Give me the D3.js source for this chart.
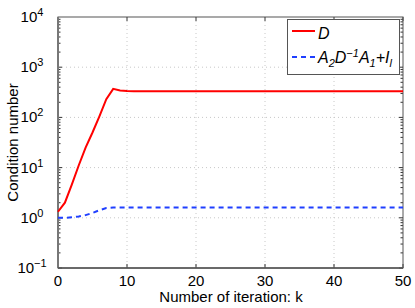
<!DOCTYPE html>
<html>
<head>
<meta charset="utf-8">
<script src="https://cdn.jsdelivr.net/npm/d3@7"></script>
<style>
body { margin: 0; background: #fff; }
text { font-family: "Liberation Sans", Arial, sans-serif; fill: #000; }
</style>
</head>
<body>
<svg width="415" height="308"></svg>
<script>
// data
var iterations = d3.range(0, 51);
var dValues = [1.32, 2.0, 4.6, 11, 25, 50, 105, 230, 370, 345, 335];
var schurValues = [1.0, 1.0, 1.02, 1.06, 1.13, 1.25, 1.42, 1.56, 1.6, 1.6, 1.6];
var dTail = 333, schurTail = 1.6;
var xTicks = [0, 10, 20, 30, 40, 50];
var yTicks = [-1, 0, 1, 2, 3, 4];

function valueAt(arr, tail, k) { return k < arr.length ? arr[k] : tail; }

var svg = d3.select("svg");
var pLeft = 58, pRight = 403, pTop = 17, pBottom = 268;

var x = d3.scaleLinear().domain([0, 50]).range([pLeft, pRight]);
var y = d3.scaleLog().domain([0.1, 10000]).range([pBottom, pTop]);

var g = svg.append("g");

// grid
xTicks.slice(1, -1).forEach(function(t) {
	g.append("line").attr("x1", x(t)).attr("x2", x(t)).attr("y1", pTop).attr("y2", pBottom)
		.attr("stroke", "#c8c8c8").attr("stroke-width", 1).attr("stroke-dasharray", "1,3");
});
yTicks.slice(1, -1).forEach(function(t) {
	g.append("line").attr("x1", pLeft).attr("x2", pRight).attr("y1", y(Math.pow(10, t))).attr("y2", y(Math.pow(10, t)))
		.attr("stroke", "#c8c8c8").attr("stroke-width", 1).attr("stroke-dasharray", "1,3");
});

// ticks inside the box
xTicks.forEach(function(t) {
	g.append("line").attr("x1", x(t)).attr("x2", x(t)).attr("y1", pBottom).attr("y2", pBottom - 4).attr("stroke", "#333");
	g.append("line").attr("x1", x(t)).attr("x2", x(t)).attr("y1", pTop).attr("y2", pTop + 4).attr("stroke", "#333");
});
for (var e = -1; e < 4; e++) {
	for (var m = 1; m < 10; m++) {
		var v = m * Math.pow(10, e);
		var len = m == 1 ? 4 : 2.5;
		g.append("line").attr("x1", pLeft).attr("x2", pLeft + len).attr("y1", y(v)).attr("y2", y(v)).attr("stroke", "#333");
		g.append("line").attr("x1", pRight).attr("x2", pRight - len).attr("y1", y(v)).attr("y2", y(v)).attr("stroke", "#333");
	}
}

// box
g.append("rect").attr("x", pLeft).attr("y", pTop).attr("width", pRight - pLeft).attr("height", pBottom - pTop)
	.attr("fill", "none").attr("stroke", "#555").attr("stroke-width", 1);
g.append("line").attr("x1", pLeft).attr("x2", pLeft).attr("y1", pTop).attr("y2", pBottom).attr("stroke", "#777").attr("stroke-width", 2);
g.append("line").attr("x1", pLeft).attr("x2", pRight).attr("y1", pBottom).attr("y2", pBottom).attr("stroke", "#555").attr("stroke-width", 1.5);

// tick labels
xTicks.forEach(function(t) {
	g.append("text").attr("x", x(t)).attr("y", pBottom + 18).attr("text-anchor", "middle")
		.attr("font-size", 15).text(t);
});
yTicks.forEach(function(t) {
	var lab = g.append("text").attr("x", pLeft - 26).attr("y", y(Math.pow(10, t)) + 5).attr("text-anchor", "middle").attr("font-size", 15);
	lab.append("tspan").text("10");
	lab.append("tspan").attr("dy", -6).attr("font-size", 11).text(t < 0 ? "\u2212" + (-t) : t);
});

// axis titles
g.append("text").attr("x", 231).attr("y", 302).attr("text-anchor", "middle").attr("font-size", 15).text("Number of iteration: k");
g.append("text").attr("transform", "translate(18," + ((pTop + pBottom) / 2) + ") rotate(-90)")
	.attr("text-anchor", "middle").attr("font-size", 15).text("Condition number");

// lines
var line = d3.line().x(function(d) { return x(d[0]); }).y(function(d) { return y(d[1]); });
var dData = iterations.map(function(k) { return [k, valueAt(dValues, dTail, k)]; });
var sData = iterations.map(function(k) { return [k, valueAt(schurValues, schurTail, k)]; });

g.append("path").datum(dData).attr("d", line).attr("fill", "none").attr("stroke", "#ff0000").attr("stroke-width", 2);
g.append("path").datum(sData).attr("d", line).attr("fill", "none").attr("stroke", "#1f3fff").attr("stroke-width", 2)
	.attr("stroke-dasharray", "5,4");

// legend
var lg = g.append("g");
lg.append("rect").attr("x", 287.5).attr("y", 19.5).attr("width", 112).attr("height", 55)
	.attr("fill", "#fff").attr("stroke", "#555").attr("stroke-width", 1);
lg.append("line").attr("x1", 292).attr("x2", 315).attr("y1", 31).attr("y2", 31).attr("stroke", "#ff0000").attr("stroke-width", 2);
lg.append("line").attr("x1", 292).attr("x2", 315).attr("y1", 57).attr("y2", 57).attr("stroke", "#1f3fff").attr("stroke-width", 2).attr("stroke-dasharray", "5,4");
lg.append("text").attr("x", 318).attr("y", 39).attr("font-size", 16).attr("font-style", "italic").text("D");
var t2 = lg.append("text").attr("x", 318).attr("y", 63).attr("font-size", 16).attr("font-style", "italic");
t2.append("tspan").text("A");
t2.append("tspan").attr("dy", 4).attr("font-size", 11).text("2");
t2.append("tspan").attr("dy", -4).text("D");
t2.append("tspan").attr("dy", -6).attr("font-size", 11).text("\u22121");
t2.append("tspan").attr("dy", 6).text("A");
t2.append("tspan").attr("dy", 4).attr("font-size", 11).text("1");
t2.append("tspan").attr("dy", -4).text("+I");
t2.append("tspan").attr("dy", 4).attr("font-size", 11).text("l");
</script>
</body>
</html>
